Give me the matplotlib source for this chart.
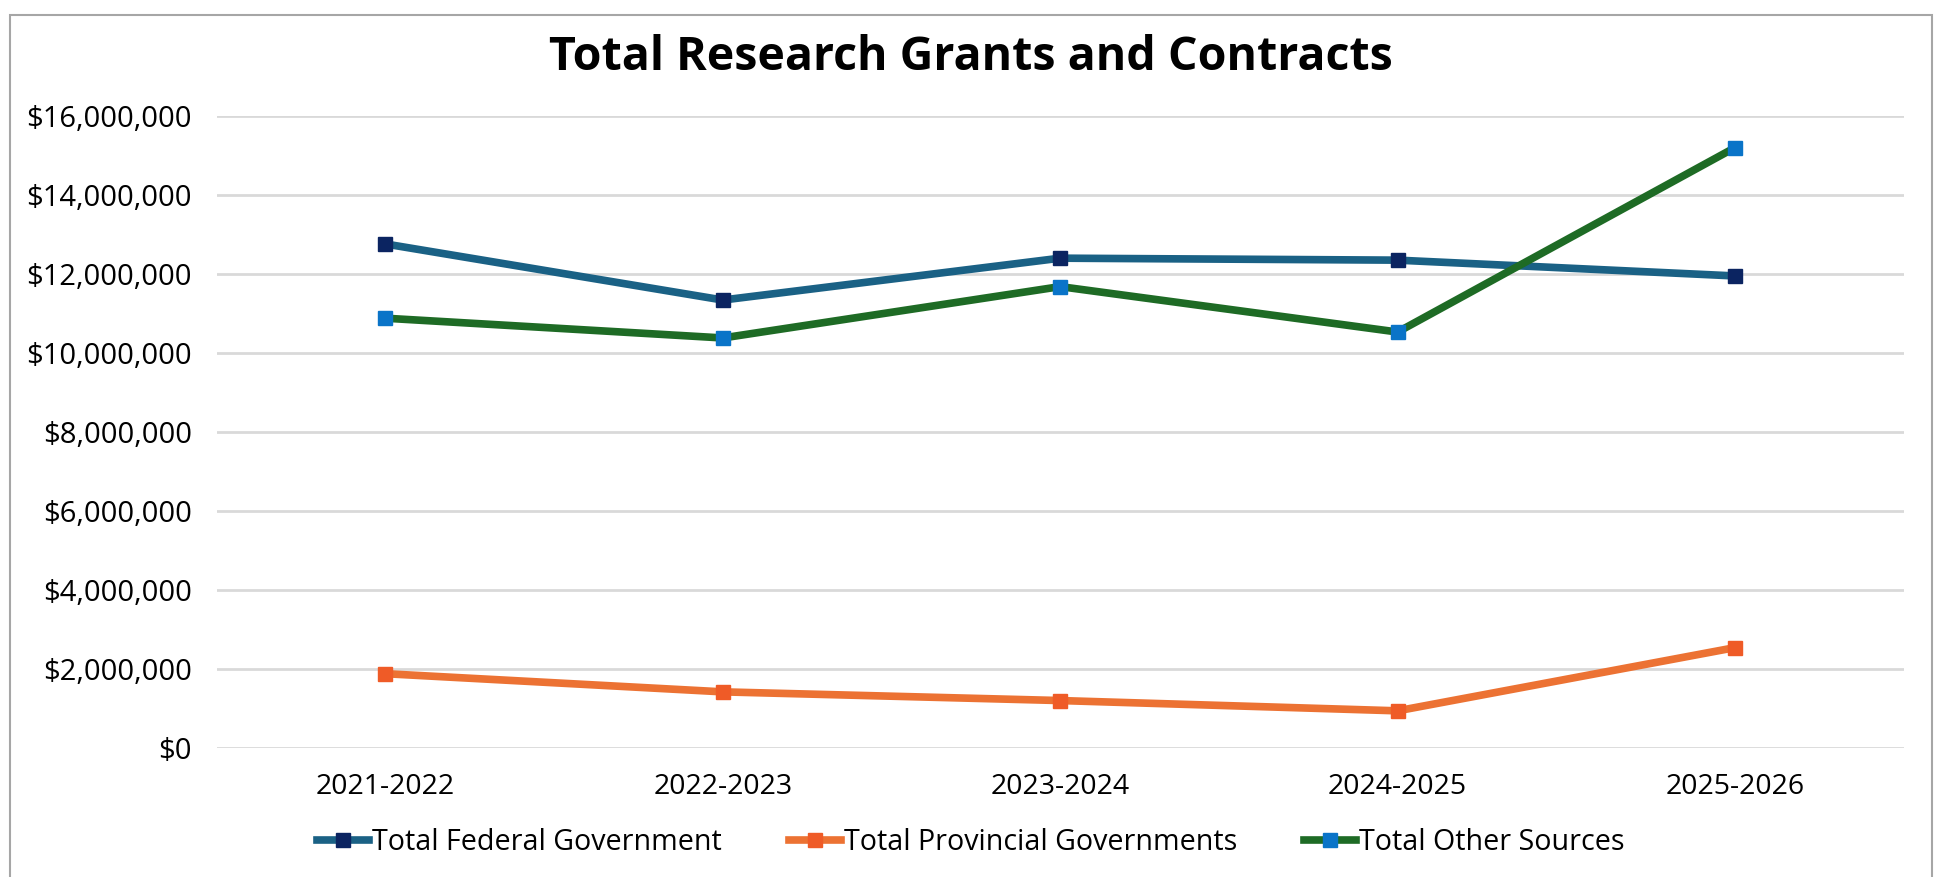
import matplotlib
matplotlib.use("Agg")
import matplotlib.pyplot as plt
from matplotlib.patches import Rectangle
from matplotlib.ticker import FuncFormatter

# data
years = ["2021-2022", "2022-2023", "2023-2024", "2024-2025", "2025-2026"]
federal = [12770000, 11350000, 12410000, 12360000, 11960000]
provincial = [1890000, 1430000, 1210000, 950000, 2550000]
other = [10890000, 10390000, 11690000, 10540000, 15210000]
y_ticks = [0, 2000000, 4000000, 6000000, 8000000, 10000000, 12000000, 14000000, 16000000]

plt.rcParams['font.family'] = ['Open Sans', 'DejaVu Sans']


def main():
    fig = plt.figure(figsize=(19.42, 8.77), dpi=100)
    ax = fig.add_axes([0.1116, 0.1467, 0.8687, 0.7206])

    x = range(len(years))
    ax.plot(x, federal, color='#1A6185', lw=5.5, marker='s', ms=10,
            mfc='#0B2461', mec='#0B2461', label='Total Federal Government', zorder=3)
    ax.plot(x, provincial, color='#EC7233', lw=5.5, marker='s', ms=10,
            mfc='#EF5B27', mec='#EF5B27', label='Total Provincial Governments', zorder=3)
    ax.plot(x, other, color='#1E6B25', lw=5.5, marker='s', ms=10,
            mfc='#0A74C8', mec='#0A74C8', label='Total Other Sources', zorder=3)

    ax.set_xlim(-0.5, len(years) - 0.5)
    ax.set_ylim(0, 16000000)
    ax.set_yticks(y_ticks)
    ax.yaxis.set_major_formatter(FuncFormatter(lambda v, p: "${:,.0f}".format(v)))
    ax.set_xticks(list(x))
    ax.set_xticklabels(years)
    ax.tick_params(axis='both', length=0, colors='black')
    ax.tick_params(axis='x', pad=18, labelsize=20.5)
    ax.tick_params(axis='y', pad=18, labelsize=21)
    ax.grid(axis='y', color='#D9D9D9', lw=2)
    ax.set_axisbelow(True)
    for s in ax.spines.values():
        s.set_visible(False)

    fig.text(0.5, 1 - 58 / 877, "Total Research Grants and Contracts", ha='center', va='center',
             fontsize=33.5, fontweight='bold')

    fig.legend(loc='center', bbox_to_anchor=(0.5, 1 - 843 / 877), ncol=3, frameon=False,
               fontsize=20.6, handlelength=1.8, handletextpad=0.12, columnspacing=2.35)

    # outer frame of the chart area
    fig.patches.append(Rectangle((10 / 1942, -0.02), 1922 / 1942, 1.012 - 7.5 / 877,
                                 transform=fig.transFigure, fill=False,
                                 edgecolor='#A6A6A6', lw=1.5))

    fig.savefig("out.png", dpi=100)


if __name__ == "__main__":
    main()
